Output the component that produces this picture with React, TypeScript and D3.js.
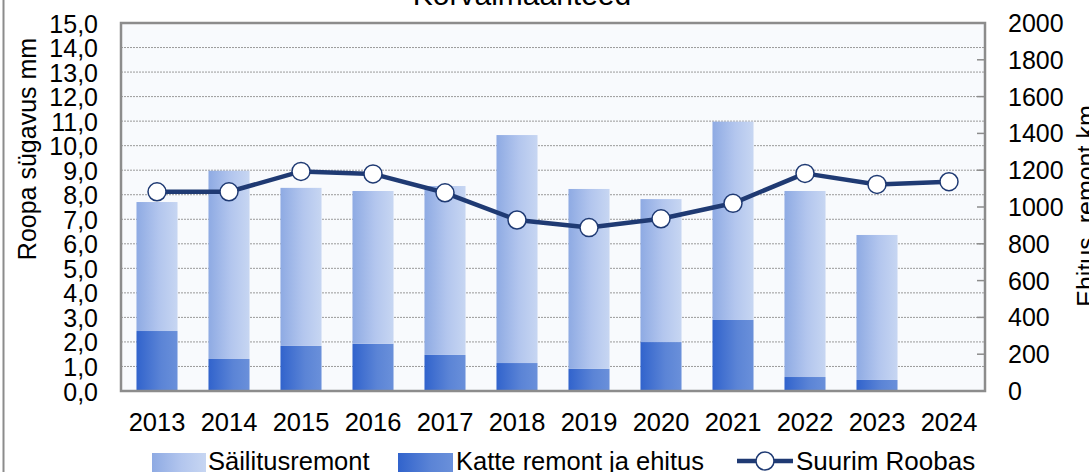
import * as d3 from "d3";

const years = ["2013", "2014", "2015", "2016", "2017", "2018", "2019", "2020", "2021", "2022", "2023", "2024"];
// km
const sailitusremont = [701, 1023, 859, 830, 918, 1239, 978, 777, 1078, 1011, 788, 0];
const katteRemont = [326, 174, 245, 257, 196, 152, 120, 266, 386, 76, 60, 0];
// mm, left axis
const suurimRoobas = [8.12, 8.12, 8.95, 8.85, 8.08, 6.97, 6.66, 7.02, 7.65, 8.87, 8.42, 8.53];
const leftTicks = d3.range(0, 15.5, 1);
const rightTicks = d3.range(0, 2001, 200);

const width = 1089;
const height = 472;
const plot = { left: 121, right: 985, top: 23, bottom: 391 };
const font = "'Liberation Sans', Arial, sans-serif";
const navy = "#1f3a73";

export default function App() {
  const x = d3
    .scaleBand()
    .domain(years)
    .range([plot.left, plot.right])
    .paddingInner(0.43)
    .paddingOuter(0.215);
  const yL = d3.scaleLinear().domain([0, 15]).range([plot.bottom, plot.top]);
  const yR = d3.scaleLinear().domain([0, 2000]).range([plot.bottom, plot.top]);
  const fmt = (v: number) => d3.format(".1f")(v).replace(".", ",");

  const rows = years.map((year, i) => ({ year, dark: katteRemont[i], light: sailitusremont[i] }));
  const stacked = d3.stack<any>().keys(["dark", "light"])(rows);

  const line = d3
    .line<number>()
    .x((_, i) => (x(years[i]) ?? 0) + x.bandwidth() / 2)
    .y((d) => yL(d));

  return (
    <svg width={width} height={height} style={{ position: "absolute", left: 0, top: 0 }} fontFamily={font}>
      <defs>
        <linearGradient id="gLight" x1="0" x2="1" y1="0" y2="0">
          <stop offset="0" stopColor="#8eaae3" />
          <stop offset="0.55" stopColor="#b3c6ee" />
          <stop offset="1" stopColor="#c7d6f2" />
        </linearGradient>
        <linearGradient id="gDark" x1="0" x2="1" y1="0" y2="0">
          <stop offset="0" stopColor="#3163cc" />
          <stop offset="0.6" stopColor="#5b84d6" />
          <stop offset="1" stopColor="#6a90da" />
        </linearGradient>
      </defs>
      <rect width={width} height={height} fill="#fff" />
      <line x1={3.5} x2={3.5} y1={0} y2={height} stroke="#8c8c8c" strokeWidth={2} />

      <text x={522} y={5} textAnchor="middle" fontSize={30}>
        Kõrvalmaanteed
      </text>

      <rect
        x={plot.left}
        y={plot.top}
        width={plot.right - plot.left}
        height={plot.bottom - plot.top}
        fill="#f8fafd"
      />
      {leftTicks.slice(1, -1).map((t) => (
        <line
          key={"g" + t}
          x1={plot.left}
          x2={plot.right}
          y1={yL(t)}
          y2={yL(t)}
          stroke="#9a9a9a"
          strokeWidth={1}
          strokeDasharray="2,1"
        />
      ))}
      {rightTicks.slice(1, -1).map((t) => (
        <line key={"rt" + t} x1={plot.right - 8} x2={plot.right} y1={yR(t)} y2={yR(t)} stroke="#8c8c8c" strokeWidth={1.5} />
      ))}

      {stacked.map((s) => (
        <g key={s.key} fill={s.key === "dark" ? "url(#gDark)" : "url(#gLight)"}>
          {s.map((d, i) => (
            <rect
              key={i}
              x={x(years[i])}
              y={yR(d[1])}
              width={x.bandwidth()}
              height={Math.max(0, yR(d[0]) - yR(d[1]))}
            />
          ))}
        </g>
      ))}

      <rect
        x={plot.left}
        y={plot.top}
        width={plot.right - plot.left}
        height={plot.bottom - plot.top}
        fill="none"
        stroke="#8c8c8c"
        strokeWidth={2.5}
      />

      <path d={line(suurimRoobas) ?? ""} fill="none" stroke={navy} strokeWidth={4.5} strokeLinejoin="round" />
      {suurimRoobas.map((v, i) => (
        <circle
          key={i}
          cx={(x(years[i]) ?? 0) + x.bandwidth() / 2}
          cy={yL(v)}
          r={9}
          fill="#fff"
          stroke={navy}
          strokeWidth={1.5}
        />
      ))}

      {leftTicks.map((t) => (
        <text key={"l" + t} x={98} y={yL(t) + 9.5} textAnchor="end" fontSize={25}>
          {fmt(t)}
        </text>
      ))}
      {rightTicks.map((t) => (
        <text key={"r" + t} x={1008} y={yR(t) + 9} textAnchor="start" fontSize={25}>
          {t}
        </text>
      ))}
      {years.map((y) => (
        <text key={y} x={(x(y) ?? 0) + x.bandwidth() / 2} y={431} textAnchor="middle" fontSize={25.5}>
          {y}
        </text>
      ))}

      <text transform={`translate(36,149) rotate(-90)`} textAnchor="middle" fontSize={25}>
        Roopa sügavus mm
      </text>
      <text transform={`translate(1095,206) rotate(-90)`} textAnchor="middle" fontSize={25}>
        Ehitus, remont km
      </text>

      {/* legend */}
      <rect x={152} y={453} width={54} height={20} fill="url(#gLight)" />
      <text x={208} y={470} fontSize={25.5}>Säilitusremont</text>
      <rect x={398} y={453} width={55} height={20} fill="url(#gDark)" />
      <text x={456} y={470} fontSize={25.5}>Katte remont ja ehitus</text>
      <line x1={737} x2={793} y1={461} y2={461} stroke={navy} strokeWidth={4.5} />
      <circle cx={765} cy={461} r={9} fill="#fff" stroke={navy} strokeWidth={1.5} />
      <text x={796} y={470} fontSize={26}>Suurim Roobas</text>
    </svg>
  );
}
